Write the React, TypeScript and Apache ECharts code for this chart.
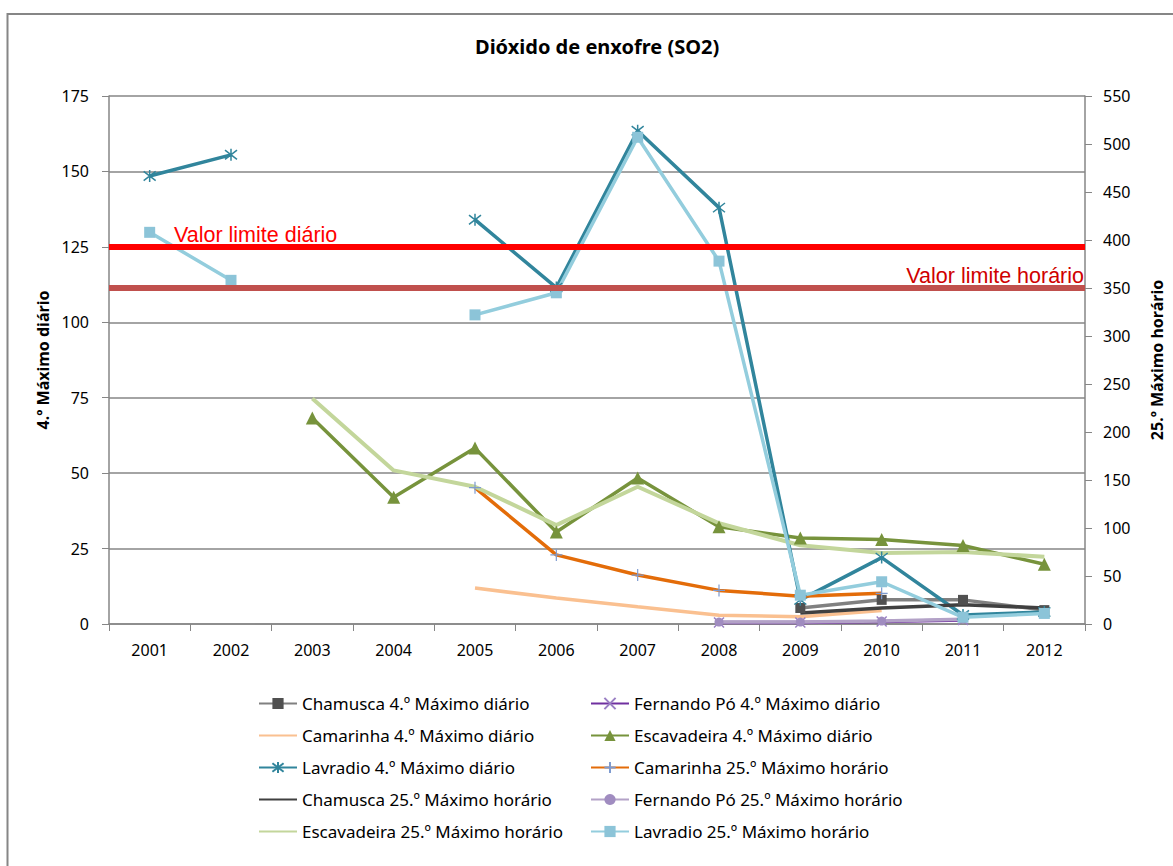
import React, { useEffect, useRef } from "react";
import * as echarts from "echarts";

const years = ["2001", "2002", "2003", "2004", "2005", "2006", "2007", "2008", "2009", "2010", "2011", "2012"];

// Left axis (4.º Máximo diário)
const chamusca4 = [null, null, null, null, null, null, null, null, 5.3, 8, 8, 4.6];
const fernando4 = [null, null, null, null, null, null, null, 0.5, 0.5, 0.8, 1.3, null];
const camarinha4 = [null, null, null, null, 11.9, 8.6, 5.7, 2.9, 2.4, 4.5, null, null];
const escavadeira4 = [null, null, 68.3, 42, 58.3, 30.5, 48.4, 32.2, 28.5, 28, 26, 19.8];
const lavradio4 = [148.5, 155.5, null, null, 134, 111.5, 163.5, 138, 8, 22, 3, 4];

// Right axis (25.º Máximo horário)
const camarinha25 = [null, null, null, null, 142, 72, 51, 35, 29, 32, null, null];
const chamusca25 = [null, null, null, null, null, null, null, null, 11.5, 16.7, 20, 16.7];
const fernando25 = [null, null, null, null, null, null, null, 2, 2, 3, 5, null];
const escavadeira25 = [null, null, 235, 160, 143, 103, 143, 105, 82, 74, 75, 70];
const lavradio25 = [408, 358, null, null, 322, 345, 507, 378, 30, 44, 7, 11];

const leftTicks = { min: 0, max: 175, interval: 25 };
const rightTicks = { min: 0, max: 550, interval: 50 };
const limitDaily = 125;
const limitHourly = 350;

const FONT = "Noto Sans";

export default function App() {
  const ref = useRef<HTMLDivElement>(null);

  useEffect(() => {
    if (!ref.current) return;
    const chart = echarts.init(ref.current, null, { renderer: "svg" });

    const mk = (
      name: string,
      data: (number | null)[],
      yAxisIndex: number,
      lineColor: string,
      symbol: string,
      symbolSize: number,
      markerFill: string,
      markerStroke: string,
      markerStrokeWidth: number,
      width = 3.5,
      extra: any = {}
    ) => ({
      name,
      type: "line",
      data,
      yAxisIndex,
      connectNulls: false,
      symbol: symbol === "none" ? "circle" : symbol,
      symbolSize,
      showSymbol: symbol !== "none",
      lineStyle: { color: lineColor, width },
      itemStyle: { color: markerFill, borderColor: markerStroke, borderWidth: markerStrokeWidth },
      ...extra,
    });

    const asterisk = "path://M-5,-5L5,5M-5,5L5,-5M0,-6.5L0,6.5";
    const cross = "path://M-5,-5L5,5M-5,5L5,-5";
    const plus = "path://M0,-6L0,6M-6,0L6,0";

    const series: any[] = [
      mk("Chamusca 4.º Máximo diário", chamusca4, 0, "#808080", "rect", 10, "#505050", "#505050", 0, 3.5, {
        markLine: {
          silent: true,
          symbol: "none",
          lineStyle: { color: "#FF0000", width: 6, type: "solid" },
          label: {
            show: true,
            position: "insideStartTop",
            formatter: "Valor limite diário",
            color: "#FF0000",
            fontFamily: "Liberation Sans",
            fontSize: 21.5,
            distance: 1,
            padding: [0, 0, 0, 64],
          },
          data: [{ yAxis: limitDaily }],
        },
      }),
      mk("Fernando Pó 4.º Máximo diário", fernando4, 0, "#7030A0", cross, 10, "none", "#9A7FC4", 1.5),
      mk("Camarinha 4.º Máximo diário", camarinha4, 0, "#FAC090", "none", 0, "#FAC090", "#FAC090", 0),
      mk("Escavadeira 4.º Máximo diário", escavadeira4, 0, "#77933C", "triangle", 13, "#77933C", "#77933C", 0),
      mk("Lavradio 4.º Máximo diário", lavradio4, 0, "#31859C", asterisk, 12, "none", "#31859C", 1.5),
      mk("Camarinha 25.º Máximo horário", camarinha25, 1, "#E36C09", plus, 12, "none", "#7E9BD0", 1.2, 3.5, {
        markLine: {
          silent: true,
          symbol: "none",
          lineStyle: { color: "#C0504D", width: 6, type: "solid" },
          label: {
            show: true,
            position: "insideEndTop",
            formatter: "Valor limite horário",
            color: "#D00000",
            fontFamily: "Liberation Sans",
            fontSize: 21.5,
            distance: 1,
          },
          data: [{ yAxis: limitHourly }],
        },
      }),
      mk("Chamusca 25.º Máximo horário", chamusca25, 1, "#404040", "none", 0, "#404040", "#404040", 0),
      mk("Fernando Pó 25.º Máximo horário", fernando25, 1, "#B3A2C7", "circle", 9, "#A08CC0", "#A08CC0", 0),
      mk("Escavadeira 25.º Máximo horário", escavadeira25, 1, "#C3D69B", "none", 0, "#C3D69B", "#C3D69B", 0, 4),
      mk("Lavradio 25.º Máximo horário", lavradio25, 1, "#93CDDD", "rect", 11, "#8CC4D8", "#8CC4D8", 0),
    ];

    const noMarker = new Set([
      "Camarinha 4.º Máximo diário",
      "Chamusca 25.º Máximo horário",
      "Escavadeira 25.º Máximo horário",
    ]);
    const legendItem = (name: string) =>
      noMarker.has(name) ? { name, itemStyle: { opacity: 0 } } : { name };

    const legendCommon = {
      orient: "vertical",
      top: 695,
      padding: 0,
      itemWidth: 38,
      itemHeight: 14,
      itemGap: 15,
      textStyle: { fontFamily: FONT, fontSize: 17, color: "#000" },
      selectedMode: false,
    };

    chart.setOption({
      animation: false,
      backgroundColor: "#fff",
      title: {
        text: "Dióxido de enxofre (SO2)",
        left: 470,
        top: 31,
        textStyle: { fontFamily: FONT, fontSize: 20, fontWeight: "bold", color: "#000" },
      },
      graphic: [
        {
          type: "rect",
          shape: { x: 7.5, y: 14, width: 1200, height: 900 },
          style: { fill: "none", stroke: "#868686", lineWidth: 2 },
          silent: true,
          z: -1,
        },
      ],
      grid: { left: 109, right: 86, top: 96, bottom: 242, containLabel: false },
      legend: [
        {
          ...legendCommon,
          left: 258,
          data: [
            "Chamusca 4.º Máximo diário",
            "Camarinha 4.º Máximo diário",
            "Lavradio 4.º Máximo diário",
            "Chamusca 25.º Máximo horário",
            "Escavadeira 25.º Máximo horário",
          ].map(legendItem),
        },
        {
          ...legendCommon,
          left: 590,
          data: [
            "Fernando Pó 4.º Máximo diário",
            "Escavadeira 4.º Máximo diário",
            "Camarinha 25.º Máximo horário",
            "Fernando Pó 25.º Máximo horário",
            "Lavradio 25.º Máximo horário",
          ].map(legendItem),
        },
      ],
      xAxis: {
        type: "category",
        data: years,
        boundaryGap: true,
        axisLine: { lineStyle: { color: "#868686", width: 1.5 } },
        axisTick: { show: true, inside: false, length: 7, interval: 0, lineStyle: { color: "#868686" } },
        axisLabel: { margin: 18, fontFamily: FONT, fontSize: 16, color: "#000", interval: 0 },
      },
      yAxis: [
        {
          type: "value",
          ...leftTicks,
          position: "left",
          name: "4.º Máximo diário",
          nameLocation: "middle",
          nameRotate: 90,
          nameGap: 58,
          nameTextStyle: { fontFamily: FONT, fontSize: 16, fontWeight: "bold", color: "#000" },
          axisLine: { show: true, lineStyle: { color: "#868686", width: 1.5 } },
          axisTick: { show: true, inside: false, length: 7, lineStyle: { color: "#868686" } },
          axisLabel: { margin: 20, fontFamily: FONT, fontSize: 16, color: "#000" },
          splitLine: { show: true, lineStyle: { color: "#868686", width: 1.5 } },
        },
        {
          type: "value",
          ...rightTicks,
          position: "right",
          name: "25.º Máximo horário",
          nameLocation: "middle",
          nameRotate: 90,
          nameGap: 64,
          nameTextStyle: { fontFamily: FONT, fontSize: 16, fontWeight: "bold", color: "#000" },
          axisLine: { show: true, lineStyle: { color: "#868686", width: 1.5 } },
          axisTick: { show: true, inside: false, length: 7, lineStyle: { color: "#868686" } },
          axisLabel: { margin: 18, fontFamily: FONT, fontSize: 16, color: "#000" },
          splitLine: { show: false },
        },
      ],
      series,
    });

    return () => chart.dispose();
  }, []);

  return (
    <div
      ref={ref}
      style={{ position: "fixed", left: 0, top: 0, width: 1173, height: 866, background: "#fff" }}
    />
  );
}
